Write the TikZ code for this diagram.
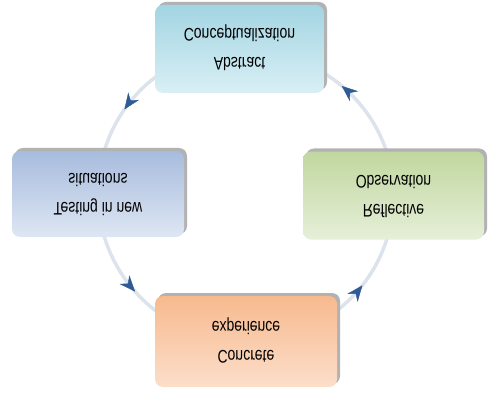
\documentclass[tikz,border=0pt]{standalone}
\usepackage{graphicx}
\usepackage{fontspec}
\setmainfont{Liberation Sans}
\usetikzlibrary{arrows.meta,shadows,decorations.markings,backgrounds}
\definecolor{arcgray}{HTML}{DDE3EC}
\definecolor{tipblue}{HTML}{2E5A96}
\definecolor{tealdk}{HTML}{A3D5E2}\definecolor{teallt}{HTML}{D9EFF5}
\definecolor{bluedk}{HTML}{A7BCDD}\definecolor{bluelt}{HTML}{DEE6F3}
\definecolor{greendk}{HTML}{C1D79F}\definecolor{greenlt}{HTML}{E6EFD9}
\definecolor{peachdk}{HTML}{F7BA8E}\definecolor{peachlt}{HTML}{FCDECA}
\newcommand{\flipped}[1]{\scalebox{1}[-1.3]{\begin{tabular}{@{}c@{}}#1\end{tabular}}}

\begin{document}
\begin{tikzpicture}[x=1pt,y=1pt,>=Stealth,
  stage/.style={rounded corners=8pt,inner sep=0pt,minimum height=88pt,
    font=\fontsize{14}{22.5}\selectfont,
    drop shadow={shadow xshift=3pt,shadow yshift=3pt,opacity=1,fill=black!30}},
  cyc/.style={line width=3.5pt,draw=arcgray,postaction={decorate},
    decoration={markings,mark=at position #1 with
      {\arrow{Stealth[length=16pt,width=13pt,line width=0.4pt,color=tipblue]}}}}]
\useasboundingbox (0,0) rectangle (502,402);
% the four stages, text mirrored top to bottom as in the source
\node[stage,minimum width=169pt,top color=tealdk,bottom color=teallt] (abs) at (239.5,353) {\flipped{Abstract\\Conceptualization}};
\node[stage,minimum width=172pt,minimum height=86pt,top color=bluedk,bottom color=bluelt] (tst) at (98,208) {\flipped{Testing in new\\situations}};
\node[stage,minimum width=181pt,top color=greendk,bottom color=greenlt] (rfl) at (393.5,206.5) {\flipped{Reflective\\Observation}};
\node[stage,minimum width=182pt,minimum height=91pt,top color=peachdk,bottom color=peachlt] (cnc) at (246,60.5) {\flipped{Concrete\\experience}};
% cycle arcs behind the boxes
\begin{scope}[on background layer]
\foreach \a/\b/\o/\i/\p in {cnc/rfl/0/-90/0.58,rfl/abs/90/0/0.53,abs/tst/180/90/0.6,tst/cnc/-90/180/0.46}
  \draw[cyc=\p] (\a.center) to[out=\o,in=\i] (\b.center);
\end{scope}
\end{tikzpicture}
\end{document}
